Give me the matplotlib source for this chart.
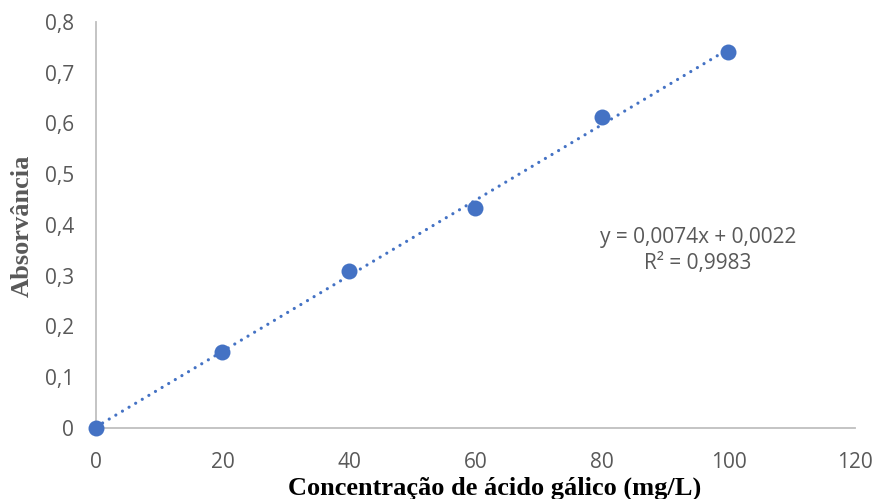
import numpy as np
import matplotlib.pyplot as plt

conc = np.array([0, 20, 40, 60, 80, 100])
absorb = np.array([0.0, 0.150, 0.310, 0.433, 0.613, 0.740])
eq_text = "y = 0,0074x + 0,0022\nR² = 0,9983"

blue = '#4472C4'
grey = '#595959'

fig = plt.figure(figsize=(8.75, 4.99), dpi=100)
ax = fig.add_axes([0.1097, 0.1423, 0.8674, 0.8137])

# linha de tendência linear
coef = np.polyfit(conc, absorb, 1)
xs = np.array([conc.min(), conc.max()])
ax.plot(xs, np.polyval(coef, xs), color=blue, linestyle=(0, (0.01, 2.4)), linewidth=2.3,
        dash_capstyle='round', clip_on=False)
ax.plot(conc, absorb, 'o', color=blue, markersize=11.5, markeredgewidth=0, clip_on=False, zorder=3)

ax.set_xlim(0, 120)
ax.set_ylim(0, 0.8)
ax.set_xticks(np.arange(0, 121, 20))
ax.set_yticks(np.arange(0, 0.81, 0.1))
ax.set_xticklabels([str(int(v)) for v in np.arange(0, 121, 20)])
ax.set_yticklabels(['0'] + [f'{v:.1f}'.replace('.', ',') for v in np.arange(0.1, 0.81, 0.1)])

for lab in ax.get_xticklabels() + ax.get_yticklabels():
    lab.set_family('Open Sans')
    lab.set_fontsize(15)
    lab.set_color(grey)
ax.tick_params(axis='y', length=0, pad=16)
ax.tick_params(axis='x', length=0, pad=17)

for s in ['top', 'right']:
    ax.spines[s].set_visible(False)
for s in ['left', 'bottom']:
    ax.spines[s].set_color('#BFBFBF')
    ax.spines[s].set_linewidth(1.3)

fig.text(495 / 875, 1 - 488 / 499, 'Concentração de ácido gálico (mg/L)', family='Liberation Serif',
         fontweight='bold', fontsize=19, color='black', ha='center', va='center')
fig.text(22 / 875, 1 - 226 / 499, 'Absorvância', family='Liberation Serif', fontweight='bold',
         fontsize=19, color=grey, rotation=90, ha='center', va='center')

ax.text(95.2, 0.350, eq_text, ha='center', va='center', family='Open Sans',
        fontsize=15, color=grey, linespacing=1.3)

fig.savefig('out.png')
